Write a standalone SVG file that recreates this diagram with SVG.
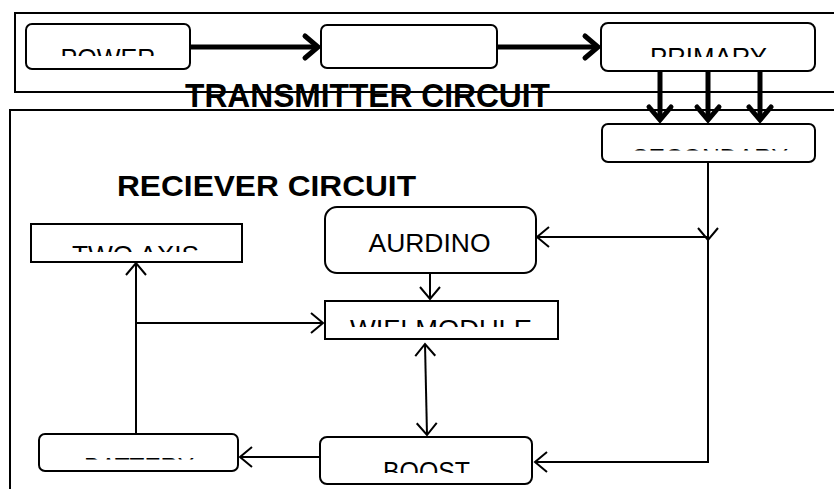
<svg xmlns="http://www.w3.org/2000/svg" width="834" height="489" viewBox="0 0 834 489">
<style>
.frame{fill:none;stroke:#000;stroke-width:2}
.box{fill:#fff;stroke:#000;stroke-width:2}
.lbl{font-family:"Liberation Sans",Arial,sans-serif;font-size:26px;fill:#000;text-anchor:middle}
.title{font-family:"Liberation Sans",Arial,sans-serif;font-weight:bold;fill:#000}
.thick{fill:none;stroke:#000;stroke-width:5;marker-end:url(#headThick)}
.thin{fill:none;stroke:#000;stroke-width:2;marker-end:url(#headThin)}
</style>
<defs>
<marker id="headThick" markerUnits="userSpaceOnUse" markerWidth="30" markerHeight="30" viewBox="-16 -15 20 30" refX="0" refY="0" orient="auto">
<path d="M-13,-11 L0,0 L-13,11" fill="none" stroke="#000" stroke-width="5" stroke-linecap="round" stroke-linejoin="miter"/>
</marker>
<marker id="headThin" markerUnits="userSpaceOnUse" markerWidth="26" markerHeight="26" viewBox="-14 -13 17 26" refX="0" refY="0" orient="auto">
<path d="M-12,-10 L0,0 L-12,10" fill="none" stroke="#000" stroke-width="2"/>
</marker>
<marker id="headThinStart" markerUnits="userSpaceOnUse" markerWidth="26" markerHeight="26" viewBox="-3 -13 17 26" refX="0" refY="0" orient="auto">
<path d="M12,-10 L0,0 L12,10" fill="none" stroke="#000" stroke-width="2"/>
</marker>
<clipPath id="cPower"><rect x="26" y="24" width="164" height="32"/></clipPath>
<clipPath id="cPrimary"><rect x="601" y="23" width="214" height="34"/></clipPath>
<clipPath id="cSecondary"><rect x="602" y="124" width="213" height="26.5"/></clipPath>
<clipPath id="cTwoAxis"><rect x="31" y="224" width="211" height="28"/></clipPath>
<clipPath id="cWifi"><rect x="325" y="301" width="233" height="26"/></clipPath>
<clipPath id="cBattery"><rect x="39" y="434" width="199" height="25.5"/></clipPath>
<clipPath id="cBoost"><rect x="320" y="437" width="212" height="36"/></clipPath>
</defs>

<g id="frames">
<rect class="frame" x="15" y="13" width="900" height="79"/>
<rect class="frame" x="10" y="110" width="900" height="500"/>
<text class="title" x="185" y="107" font-size="33" textLength="365" lengthAdjust="spacingAndGlyphs">TRANSMITTER CIRCUIT</text>
<text class="title" x="117" y="196" font-size="30" textLength="299" lengthAdjust="spacingAndGlyphs">RECIEVER CIRCUIT</text>
</g>

<g id="connectors">
<path class="thick" d="M190,47 H318"/>
<path class="thick" d="M497,47 H598"/>
<path class="thick" d="M660,71 V120"/>
<path class="thick" d="M708,71 V120"/>
<path class="thick" d="M760,71 V120"/>
<path class="thin" d="M708,162 V240"/>
<path class="thin" d="M708,240 V462 H535"/>
<path class="thin" d="M708,237 H537"/>
<path class="thin" d="M430,273 V299"/>
<path class="thin" d="M425,344 L427,435" marker-start="url(#headThinStart)"/>
<path class="thin" d="M136,434 V263"/>
<path class="thin" d="M136,323 H323"/>
<path class="thin" d="M320,457 H240"/>
</g>

<g id="power">
<rect class="box" x="26" y="24" width="164" height="45" rx="6"/>
<text class="lbl" x="108" y="66.6" textLength="95" lengthAdjust="spacingAndGlyphs" clip-path="url(#cPower)">POWER</text>
</g>
<g id="middle">
<rect class="box" x="321" y="25" width="176" height="43" rx="6"/>
</g>
<g id="primary">
<rect class="box" x="601" y="23" width="214" height="48" rx="7"/>
<text class="lbl" x="708.5" y="65.6" textLength="117" lengthAdjust="spacingAndGlyphs" clip-path="url(#cPrimary)">PRIMARY</text>
</g>
<g id="secondary">
<rect class="box" x="602" y="124" width="213" height="38" rx="6"/>
<text class="lbl" x="710" y="166.6" textLength="156" lengthAdjust="spacingAndGlyphs" clip-path="url(#cSecondary)">SECONDARY</text>
</g>
<g id="aurdino">
<rect class="box" x="325" y="207" width="211" height="66" rx="12"/>
<text class="lbl" x="429.5" y="251.6" textLength="122" lengthAdjust="spacingAndGlyphs">AURDINO</text>
</g>
<g id="wifi">
<rect class="box" x="325" y="301" width="233" height="38"/>
<text class="lbl" x="441" y="337.6" textLength="182" lengthAdjust="spacingAndGlyphs" clip-path="url(#cWifi)">WIFI MODULE</text>
</g>
<g id="twoaxis">
<rect class="box" x="31" y="224" width="211" height="38"/>
<text class="lbl" x="135.5" y="263.6" textLength="127" lengthAdjust="spacingAndGlyphs" clip-path="url(#cTwoAxis)">TWO AXIS</text>
</g>
<g id="battery">
<rect class="box" x="39" y="434" width="199" height="37" rx="6"/>
<text class="lbl" x="139" y="475.6" textLength="110" lengthAdjust="spacingAndGlyphs" clip-path="url(#cBattery)">BATTERY</text>
</g>
<g id="boost">
<rect class="box" x="320" y="437" width="212" height="47" rx="7"/>
<text class="lbl" x="426.5" y="479.6" textLength="87" lengthAdjust="spacingAndGlyphs" clip-path="url(#cBoost)">BOOST</text>
</g>
</svg>
